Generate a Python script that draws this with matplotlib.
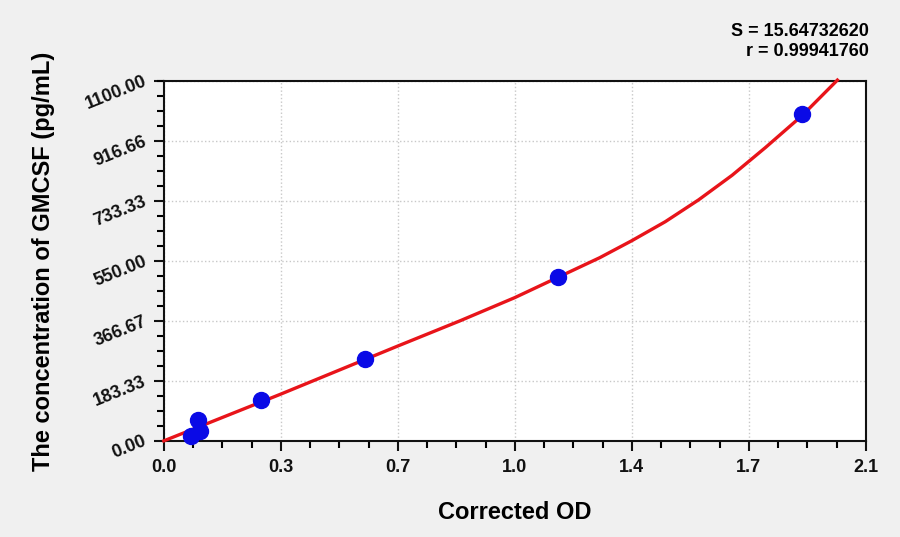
import numpy as np
import matplotlib
matplotlib.use("Agg")
import matplotlib.pyplot as plt
from matplotlib.ticker import AutoMinorLocator

# standards (corrected OD vs concentration)
std_od = [0.082, 0.101, 0.107, 0.291, 0.602, 1.179, 1.909]
std_conc = [15.6, 62.5, 31.25, 125.0, 250.0, 500.0, 1000.0]

# fitted curve
curve_od = [0.0, 0.35, 0.70, 0.886, 1.05, 1.179, 1.304, 1.40, 1.50, 1.60, 1.70, 1.80, 1.91, 2.015]
curve_conc = [0.0, 143, 290, 367, 438, 500, 560, 612, 670, 737, 812, 897, 995, 1103]

x_ticks = [0.0, 0.35, 0.70, 1.05, 1.40, 1.75, 2.10]
x_labels = ['0.0', '0.3', '0.7', '1.0', '1.4', '1.7', '2.1']
y_ticks = [0.0, 183.33, 366.67, 550.0, 733.33, 916.66, 1100.0]
y_labels = ['0.00', '183.33', '366.67', '550.00', '733.33', '916.66', '1100.00']

plt.rcParams['font.family'] = ['Liberation Sans Narrow', 'Liberation Sans', 'DejaVu Sans']

fig = plt.figure(figsize=(9, 5.37), dpi=100, facecolor='#f0f0f0')
ax = fig.add_axes([0.182, 0.179, 0.780, 0.670])
ax.set_facecolor('white')

ax.plot(curve_od, curve_conc, color='#e8141a', lw=2.4, zorder=3, clip_on=False,
        solid_joinstyle='round')
ax.plot(std_od, std_conc, 'o', color='#0a0ae6', ms=11.5, zorder=4, clip_on=False)

ax.set_xlim(0, 2.1)
ax.set_ylim(0, 1100)
ax.set_xticks(x_ticks)
ax.set_xticklabels(x_labels, fontsize=13, fontweight='bold')
ax.set_yticks(y_ticks)
ax.set_yticklabels(y_labels, fontsize=13, fontweight='bold', rotation=22,
                   ha='right', va='center', rotation_mode='anchor')
ax.xaxis.set_minor_locator(AutoMinorLocator(4))
ax.yaxis.set_minor_locator(AutoMinorLocator(4))
ax.tick_params(which='major', length=7, width=1.5, direction='out', pad=6, colors='#111111')
ax.tick_params(which='minor', length=5, width=1.5, direction='out')

ax.grid(True, which='major', color='#c8c8c8', linestyle=':', linewidth=1)
ax.set_axisbelow(True)
for sp in ax.spines.values():
    sp.set_linewidth(1.5)
    sp.set_color('#111111')

ax.set_xlabel('Corrected OD', fontsize=17, fontweight='bold', labelpad=18)
ax.set_ylabel('The concentration of GMCSF (pg/mL)', fontsize=17, fontweight='bold', labelpad=20)

fig.text(0.965, 0.942, 'S = 15.64732620', ha='right', va='center', fontsize=13, fontweight='bold')
fig.text(0.965, 0.904, 'r = 0.99941760', ha='right', va='center', fontsize=13, fontweight='bold')

fig.savefig('out.png', dpi=100, facecolor=fig.get_facecolor())
